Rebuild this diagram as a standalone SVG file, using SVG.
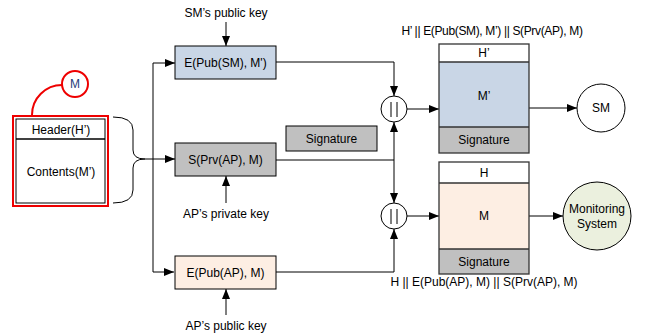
<svg xmlns="http://www.w3.org/2000/svg" width="647" height="335" viewBox="0 0 647 335">
<defs>
<marker id="ah" markerWidth="10" markerHeight="8" refX="10" refY="4" orient="auto" markerUnits="userSpaceOnUse">
<path d="M0,0 L10,4 L0,8 Z" fill="#000"/>
</marker>
<style>
text{font-family:"Liberation Sans",Arial,sans-serif;font-size:12px;fill:#000;text-anchor:middle;dominant-baseline:central}
.box{stroke:#000;stroke-width:1}
.ln{fill:none;stroke:#000;stroke-width:1}
.arr{fill:none;stroke:#000;stroke-width:1;marker-end:url(#ah)}
.pk{stroke:#333;stroke-width:1.3}
</style>
</defs>
<rect width="647" height="335" fill="#fff"/>

<g id="message">
<path d="M32,115 A30,30 0 0 1 62,85" fill="none" stroke="#e00" stroke-width="2"/>
<circle cx="75" cy="84" r="13" fill="#fff" stroke="#e00" stroke-width="2"/>
<text x="75" y="84" style="fill:#1f3d7a">M</text>
<rect x="13" y="116" width="95" height="90" fill="none" stroke="#e00" stroke-width="2"/>
<rect x="16" y="119" width="89" height="84" fill="#fff" stroke="#000" stroke-width="1"/>
<line x1="16" y1="139" x2="105" y2="139" stroke="#000" stroke-width="1.3"/>
<text x="61" y="130">Header(H’)</text>
<text x="61" y="172">Contents(M’)</text>
</g>

<g id="brace">
<path class="ln" d="M113,117 Q133,117 133,130 L133,150 Q133,159 145,159 Q133,159 133,168 L133,190 Q133,203 113,203"/>
</g>

<g id="connectors">
<polyline class="arr" points="145,159 175,159"/>
<polyline class="ln" points="153,63 153,272"/>
<polyline class="arr" points="153,63 175,63"/>
<polyline class="arr" points="153,272 174,272"/>
<polyline class="arr" points="226,22 226,46"/>
<polyline class="arr" points="226,203 226,176"/>
<polyline class="arr" points="226,315 226,289"/>
<polyline class="arr" points="276,62 394,62 394,96"/>
<polyline class="ln" points="276,160 394,160"/>
<polyline class="arr" points="394,160 394,122"/>
<polyline class="arr" points="394,160 394,203"/>
<polyline class="arr" points="276,272 394,272 394,229"/>
<polyline class="arr" points="407,109 439,109"/>
<polyline class="arr" points="407,216 439,216"/>
<polyline class="arr" points="529,108 577,108"/>
<polyline class="arr" points="529,216 563,216"/>
</g>

<g id="sm-key"><text x="226" y="13">SM’s public key</text></g>
<g id="ap-priv-key"><text x="226" y="214">AP’s private key</text></g>
<g id="ap-pub-key"><text x="226" y="326">AP’s public key</text></g>

<g id="enc-sm">
<rect class="box" x="175" y="46" width="101" height="33" fill="#c9d6e6"/>
<text x="225.5" y="62.5">E(Pub(SM), M')</text>
</g>
<g id="sign">
<rect class="box" x="175" y="143" width="101" height="33" fill="#c0c0c0"/>
<text x="225.5" y="159.5">S(Prv(AP), M)</text>
</g>
<g id="signature-label">
<rect class="box" x="286" y="126" width="91" height="25" fill="#c0c0c0"/>
<text x="331.5" y="138.5">Signature</text>
</g>
<g id="enc-ap">
<rect class="box" x="175" y="256" width="101" height="33" fill="#fdeee3"/>
<text x="225.5" y="272.5">E(Pub(AP), M)</text>
</g>

<g id="concat1">
<circle cx="394" cy="109" r="13" fill="#fff" stroke="#000"/>
<line x1="391" y1="102" x2="391" y2="117" stroke="#000"/>
<line x1="397" y1="102" x2="397" y2="117" stroke="#000"/>
</g>
<g id="concat2">
<circle cx="394" cy="216" r="13" fill="#fff" stroke="#000"/>
<line x1="391" y1="209" x2="391" y2="224" stroke="#000"/>
<line x1="397" y1="209" x2="397" y2="224" stroke="#000"/>
</g>

<g id="packet-sm">
<text x="492" y="31" letter-spacing="-0.35">H’ || E(Pub(SM), M’) || S(Prv(AP), M)</text>
<rect x="439" y="44" width="90" height="18" fill="#fff"/>
<rect x="439" y="62" width="90" height="65" fill="#c9d6e6"/>
<rect x="439" y="127" width="90" height="26" fill="#c0c0c0"/>
<rect x="439" y="44" width="90" height="109" fill="none" class="pk"/>
<line x1="439" y1="62" x2="529" y2="62" class="pk"/>
<line x1="439" y1="127" x2="529" y2="127" class="pk"/>
<text x="484" y="53">H’</text>
<text x="484" y="96">M’</text>
<text x="484" y="140">Signature</text>
</g>

<g id="packet-ms">
<rect x="439" y="162" width="90" height="21" fill="#fff"/>
<rect x="439" y="183" width="90" height="66" fill="#fdeee3"/>
<rect x="439" y="249" width="90" height="25" fill="#c0c0c0"/>
<rect x="439" y="162" width="90" height="112" fill="none" class="pk"/>
<line x1="439" y1="183" x2="529" y2="183" class="pk"/>
<line x1="439" y1="249" x2="529" y2="249" class="pk"/>
<text x="484" y="173">H</text>
<text x="484" y="216">M</text>
<text x="484" y="262">Signature</text>
<text x="484" y="282">H || E(Pub(AP), M) || S(Prv(AP), M)</text>
</g>

<g id="sm">
<circle cx="601" cy="108" r="24" fill="#fff" stroke="#000"/>
<text x="601" y="108">SM</text>
</g>
<g id="monitoring">
<circle cx="597" cy="216" r="34" fill="#ebf0de" stroke="#000"/>
<text x="597" y="209">Monitoring</text>
<text x="597" y="224">System</text>
</g>
</svg>
